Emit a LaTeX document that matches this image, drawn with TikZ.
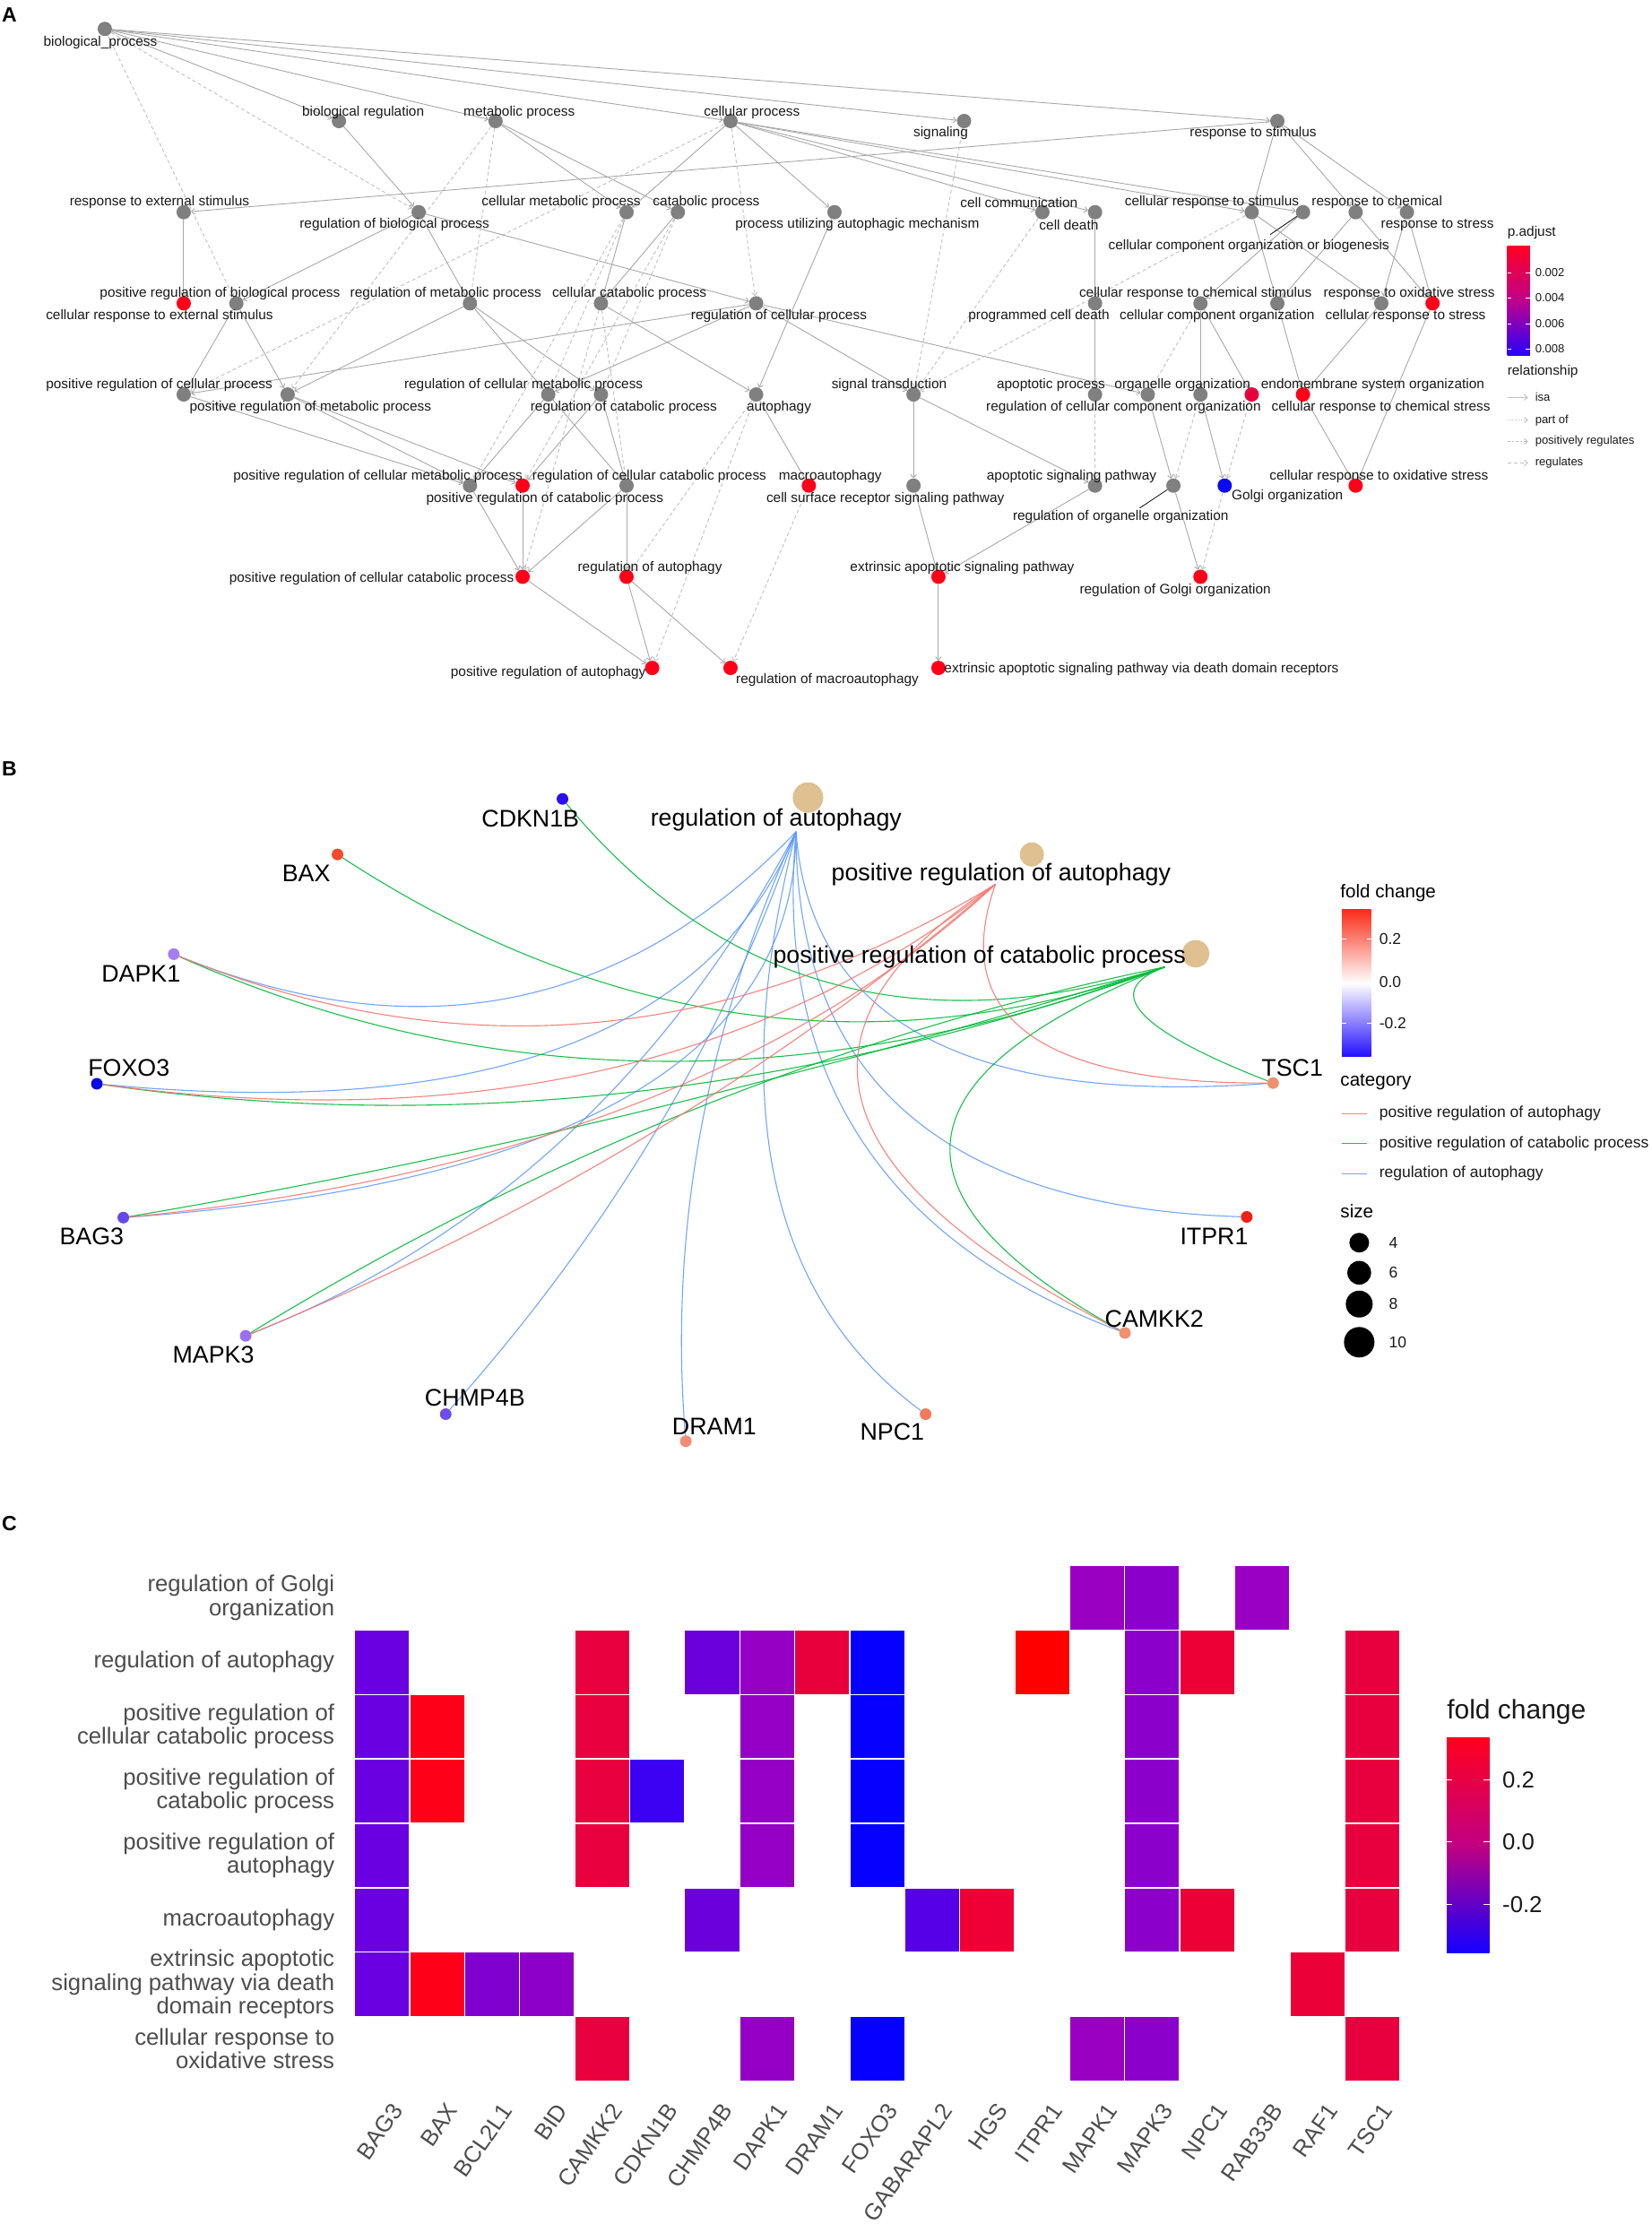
\documentclass[tikz,border=0pt]{standalone}
\usepackage{fontspec}
\setmainfont{Liberation Sans}
\usetikzlibrary{calc,arrows.meta}
\pgfdeclarelayer{bg}
\pgfdeclarelayer{back}
\pgfsetlayers{back,bg,main}
% panel A colours
\definecolor{nodegray}{RGB}{128,128,128}
\definecolor{nodered}{RGB}{255,0,24}
\definecolor{nodecrim}{RGB}{232,0,58}
\definecolor{nodeblue}{RGB}{12,10,240}
\definecolor{edgegray}{RGB}{168,168,168}
\definecolor{edgelight}{RGB}{192,192,192}
\definecolor{labtext}{RGB}{25,25,25}
\definecolor{pR}{RGB}{255,0,36}
\definecolor{pM}{RGB}{190,0,140}
\definecolor{pB}{RGB}{40,0,255}
% panel B colours
\definecolor{catcol}{RGB}{222,192,145}
\definecolor{eRed}{RGB}{248,118,109}
\definecolor{eGreen}{RGB}{0,186,56}
\definecolor{eBlue}{RGB}{97,156,255}
\definecolor{bR}{RGB}{250,45,25}
\definecolor{bB}{RGB}{35,15,255}
\definecolor{gCDK}{RGB}{43,15,240}
\definecolor{gBAX}{RGB}{242,74,42}
\definecolor{gDAP}{RGB}{165,127,240}
\definecolor{gFOX}{RGB}{10,10,230}
\definecolor{gBAG}{RGB}{101,72,232}
\definecolor{gMK3}{RGB}{155,112,240}
\definecolor{gCHM}{RGB}{111,78,232}
\definecolor{gDRA}{RGB}{240,140,120}
\definecolor{gNPC}{RGB}{242,121,92}
\definecolor{gCAM}{RGB}{242,144,112}
\definecolor{gITP}{RGB}{240,30,20}
\definecolor{gTSC}{RGB}{240,144,110}
% panel C colours
\definecolor{axtext}{RGB}{77,77,77}
\definecolor{cBAG}{RGB}{106,0,223}
\definecolor{cBAX}{RGB}{255,0,25}
\definecolor{cBCL}{RGB}{128,0,208}
\definecolor{cBID}{RGB}{140,0,200}
\definecolor{cCAM}{RGB}{232,0,63}
\definecolor{cCDK}{RGB}{60,0,242}
\definecolor{cCHM}{RGB}{108,0,221}
\definecolor{cDAP}{RGB}{148,0,196}
\definecolor{cDRA}{RGB}{232,0,60}
\definecolor{cFOX}{RGB}{5,0,255}
\definecolor{cGAB}{RGB}{85,0,230}
\definecolor{cHGS}{RGB}{238,0,53}
\definecolor{cITP}{RGB}{255,0,0}
\definecolor{cMKa}{RGB}{154,0,194}
\definecolor{cMKb}{RGB}{140,0,203}
\definecolor{cNPC}{RGB}{236,0,53}
\definecolor{cRAB}{RGB}{154,0,196}
\definecolor{cRAF}{RGB}{235,0,56}
\definecolor{cTSC}{RGB}{232,0,62}
\definecolor{hR}{RGB}{255,0,30}
\definecolor{hM}{RGB}{192,0,130}
\definecolor{hB}{RGB}{20,0,255}
\newcommand\myfA{\fontsize{15.4}{17}\selectfont}
\newcommand\myfAl{\fontsize{13}{15}\selectfont}
\newcommand\myfB{\fontsize{26.8}{30}\selectfont}
\newcommand\myfBt{\fontsize{20.6}{24}\selectfont}
\newcommand\myfBl{\fontsize{17.5}{20}\selectfont}
\newcommand\myfC{\fontsize{25.7}{26.5}\selectfont}
\newcommand\myfCt{\fontsize{30}{34}\selectfont}
\newcommand\myfP{\fontsize{23}{26}\selectfont\bfseries}
\newcommand\bedge[4]{\draw[be,#1] (#2) .. controls ($1.3333*(#3)-0.3333*(#4)$) and ($1.3333*(#3)-0.3333*(#2)$) .. (#4);}
\newcommand\hcell[3]{\filldraw[fill=#3,draw=white,line width=1.3pt] ({249+38.63*#2},{1099.3+45.25*#1}) rectangle ++(38.63,45.25);}
\begin{document}
\begin{tikzpicture}[x=1.5888pt,y=-1.5888pt,
  gn/.style={circle,fill=nodegray,inner sep=0pt,minimum size=16pt},
  rn/.style={gn,fill=nodered},
  al/.style={font=\myfA,text=labtext,inner sep=0pt},
  isa/.style={draw=edgegray,line width=0.9pt,-{Straight Barb[length=3.5pt,width=6.5pt]}},
  dsh/.style={draw=edgelight,line width=0.9pt,dash pattern=on 4pt off 3pt,-{Straight Barb[length=3.5pt,width=6.5pt]}},
  gene/.style={circle,inner sep=0pt,minimum size=13pt},
  catn/.style={circle,fill=catcol,inner sep=0pt},
  bl/.style={font=\myfB,text=black,inner sep=0pt},
  be/.style={line width=1.1pt,draw opacity=0.9},
  rl/.style={font=\myfC,text=axtext,anchor=east,align=right,inner sep=0pt},
  cl/.style={font=\myfC,text=axtext,rotate=55,anchor=east,inner sep=0pt}]
\begin{pgfonlayer}{back}
\fill[white] (0,0) rectangle (1160,1568);
\end{pgfonlayer}
\useasboundingbox (0,0) rectangle (1160,1568);

% ================= PANEL A =================
\node[font=\myfP] (pA) at (6.5,10.5) {A};
\node[gn] (bp) at (73.6,20.3) {};
\node[gn] (breg) at (238,85) {};
\node[gn] (mp) at (348,85) {};
\node[gn] (cp) at (513,85) {};
\node[gn] (sig) at (677,85) {};
\node[gn] (rs) at (897,85) {};
\node[gn] (res) at (129,149) {};
\node[gn] (rbp) at (294,149) {};
\node[gn] (cmp) at (440,149) {};
\node[gn] (cat) at (476,149) {};
\node[gn] (pua) at (586,149) {};
\node[gn] (cc) at (732,149) {};
\node[gn] (cd) at (769,149) {};
\node[gn] (crs) at (879,149) {};
\node[gn] (ccob) at (915,149) {};
\node[gn] (rc) at (952,149) {};
\node[gn] (rst) at (988,149) {};
\node[rn] (cres) at (129,213) {};
\node[gn] (prbp) at (166,213) {};
\node[gn] (rmp) at (330,213) {};
\node[gn] (ccp) at (422,213) {};
\node[gn] (rcp) at (531,213) {};
\node[gn] (pcd) at (769,213) {};
\node[gn] (cco) at (843,213) {};
\node[gn] (crcs) at (897,213) {};
\node[gn] (crst) at (970,213) {};
\node[rn] (ros) at (1006,213) {};
\node[gn] (prcp) at (129,277) {};
\node[gn] (prmp) at (202,277) {};
\node[gn] (rcmp) at (385,277) {};
\node[gn] (rcat) at (422,277) {};
\node[gn] (aut) at (531,277) {};
\node[gn] (st) at (641.5,277) {};
\node[gn] (ap) at (769,277) {};
\node[gn] (rcco) at (806,277) {};
\node[gn] (oo) at (843,277) {};
\node[gn,fill=nodecrim] (esorg) at (879,277) {};
\node[rn] (crcst) at (915,277) {};
\node[gn] (prcmp) at (330,341) {};
\node[rn] (prcat) at (367,341) {};
\node[gn] (rccp) at (440,341) {};
\node[rn] (macro) at (568,341) {};
\node[gn] (csrsp) at (641.5,341) {};
\node[gn] (asp) at (769,341) {};
\node[gn] (roo) at (824,341) {};
\node[gn,fill=nodeblue] (golgi) at (860,341) {};
\node[rn] (croxs) at (952,341) {};
\node[rn] (prccp) at (367,405) {};
\node[rn] (raut) at (440,405) {};
\node[rn] (easp) at (659,405) {};
\node[rn] (rgolgi) at (843,405) {};
\node[rn] (praut) at (458,469) {};
\node[rn] (rmacro) at (513,469) {};
\node[rn] (easpdd) at (659,469) {};

\begin{pgfonlayer}{bg}
\foreach \a/\b in {bp/breg,bp/mp,bp/cp,bp/sig,bp/rs,
  breg/rbp,mp/cmp,mp/cat,cp/cmp,cp/pua,cp/cc,cp/cd,cp/crs,cp/ccob,
  rs/res,rs/crs,rs/rc,rs/rst,res/cres,
  rbp/prbp,rbp/rmp,rbp/rcp,cmp/ccp,cat/ccp,cd/pcd,
  crs/crcs,rc/crcs,crs/crst,rst/crst,rst/ros,rc/ros,ccob/cco,
  prbp/prcp,prbp/prmp,rcp/prcp,rcp/rcmp,rcp/st,rcp/rcco,
  rmp/prmp,rmp/rcmp,rmp/rcat,pua/aut,ccp/aut,pcd/ap,cco/oo,cco/esorg,
  crcs/crcst,crst/crcst,
  prmp/prcmp,prcp/prcmp,rcmp/prcmp,rcmp/rccp,rcat/rccp,rcat/prcat,prmp/prcat,
  aut/macro,st/csrsp,st/asp,rcco/roo,oo/golgi,ros/croxs,crcst/croxs,
  prcmp/prccp,prcat/prccp,rccp/prccp,rccp/raut,prccp/praut,raut/praut,raut/rmacro,
  csrsp/easp,asp/easp,easp/easpdd,roo/rgolgi}
  \draw[isa] (\a) -- (\b);
\foreach \a/\b in {bp/rbp,bp/prbp,mp/rmp,mp/prmp,cp/rcp,cp/prcp,cmp/rcmp,cmp/prcmp,
  cat/rcat,cat/prcat,ccp/rccp,ccp/prccp,sig/st,cc/st,crs/st,ap/asp,aut/raut,aut/praut,
  macro/rmacro,cco/rcco,oo/roo,esorg/golgi,golgi/rgolgi}
  \draw[dsh] (\a) -- (\b);
\end{pgfonlayer}

\node[al] (l-bp) at (70.5,29.8) {biological\_process};
\node[al] (l-breg) at (255,78.7) {biological regulation};
\node[al] (l-mp) at (364.6,78.7) {metabolic process};
\node[al] (l-cp) at (528,78.7) {cellular process};
\node[al] (l-sig) at (660.6,93.8) {signaling};
\node[al] (l-rs) at (880,93.8) {response to stimulus};
\node[al] (l-res) at (112,142) {response to external stimulus};
\node[al] (l-rbp) at (277,157.8) {regulation of biological process};
\node[al] (l-cmp) at (394,142) {cellular metabolic process};
\node[al] (l-cat) at (496,142) {catabolic process};
\node[al] (l-pua) at (602,157.8) {process utilizing autophagic mechanism};
\node[al] (l-cc) at (715.6,142) {cell communication};
\node[al] (l-cd) at (750.6,157.8) {cell death};
\node[al] (l-crs) at (851,142) {cellular response to stimulus};
\node[al] (l-rc) at (967,142) {response to chemical};
\node[al] (l-rst) at (1009.4,157.8) {response to stress};
\node[al] (l-ccob) at (877,172.5) {cellular component organization or biogenesis};
\node[al] (l-prbp) at (154.5,206) {positive regulation of biological process};
\node[al] (l-cres) at (112,221.7) {cellular response to external stimulus};
\node[al] (l-rmp) at (313,206) {regulation of metabolic process};
\node[al] (l-ccp) at (442,206) {cellular catabolic process};
\node[al] (l-rcp) at (547,221.7) {regulation of cellular process};
\node[al] (l-pcd) at (729.6,221.7) {programmed cell death};
\node[al] (l-crcs) at (839.5,206) {cellular response to chemical stimulus};
\node[al] (l-cco) at (854.7,221.7) {cellular component organization};
\node[al] (l-ros) at (989.6,206) {response to oxidative stress};
\node[al] (l-crst) at (987,221.7) {cellular response to stress};
\node[al] (l-prcp) at (111.8,270.2) {positive regulation of cellular process};
\node[al] (l-prmp) at (218,285.8) {positive regulation of metabolic process};
\node[al] (l-rcmp) at (367.7,270.2) {regulation of cellular metabolic process};
\node[al] (l-rcat) at (438,286) {regulation of catabolic process};
\node[al] (l-aut) at (547,286) {autophagy};
\node[al] (l-st) at (624.4,270.2) {signal transduction};
\node[al] (l-ap) at (738,270.2) {apoptotic process};
\node[al] (l-oo) at (830.4,270.2) {organelle organization};
\node[al] (l-rcco) at (789,286) {regulation of cellular component organization};
\node[al] (l-esorg) at (964,270.2) {endomembrane system organization};
\node[al] (l-crcst) at (969.8,286) {cellular response to chemical stress};
\node[al] (l-prcmp) at (265.4,334.6) {positive regulation of cellular metabolic process};
\node[al] (l-prcat) at (382.6,350.4) {positive regulation of catabolic process};
\node[al] (l-rccp) at (456,334.6) {regulation of cellular catabolic process};
\node[al] (l-macro) at (583,334.6) {macroautophagy};
\node[al] (l-csrsp) at (621.7,350.4) {cell surface receptor signaling pathway};
\node[al] (l-asp) at (752.5,334.6) {apoptotic signaling pathway};
\node[al] (l-roo) at (787,363) {regulation of organelle organization};
\node[al] (l-golgi) at (904,348.3) {Golgi organization};
\node[al] (l-croxs) at (968.3,334.6) {cellular response to oxidative stress};
\node[al] (l-prccp) at (261,406.4) {positive regulation of cellular catabolic process};
\node[al] (l-raut) at (456.4,398.6) {regulation of autophagy};
\node[al] (l-easp) at (675.7,398.6) {extrinsic apoptotic signaling pathway};
\node[al] (l-rgolgi) at (825.3,414.4) {regulation of Golgi organization};
\node[al] (l-praut) at (385,472.5) {positive regulation of autophagy};
\node[al] (l-rmacro) at (581,477.3) {regulation of macroautophagy};
\node[al] (l-easpdd) at (801.6,470) {extrinsic apoptotic signaling pathway via death domain receptors};
% label pointers
\coordinate (pt1) at (892,164.7);
\coordinate (pt2) at (800.4,356.7);
\draw[black,line width=0.8pt] (pt1) -- (ccob);
\draw[black,line width=0.8pt] (pt2) -- (roo);

% legend A
\node[al,anchor=west] (lpadj) at (1058.5,163.6) {p.adjust};
\shade[top color=pR,bottom color=pB,middle color=pM] (1058.5,173) rectangle (1074.4,249.7);
\foreach \yy/\tt [count=\k] in {191.3/0.002,209.2/0.004,227.2/0.006,245/0.008}{
  \draw[white,line width=0.8pt] (1058.5,\yy) -- ++(3,0) (1074.4,\yy) -- ++(-3,0);
  \node[font=\myfAl,text=labtext,anchor=west,inner sep=0pt] (lp\k) at (1078,\yy) {\tt};
}
\node[al,anchor=west] (lrel) at (1058.5,261.2) {relationship};
\coordinate (ra1) at (1059,279); \coordinate (rb1) at (1073,279);
\coordinate (ra2) at (1059,295); \coordinate (rb2) at (1073,295);
\coordinate (ra3) at (1059,310); \coordinate (rb3) at (1073,310);
\coordinate (ra4) at (1059,325); \coordinate (rb4) at (1073,325);
\draw[isa,draw=edgelight] (ra1) -- (rb1);
\draw[dsh,dash pattern=on 1pt off 1.5pt] (ra2) -- (rb2);
\draw[dsh,dash pattern=on 2.5pt off 2pt] (ra3) -- (rb3);
\draw[dsh] (ra4) -- (rb4);
\node[font=\myfAl,text=labtext,anchor=west,inner sep=0pt] (lr1) at (1078,279) {isa};
\node[font=\myfAl,text=labtext,anchor=west,inner sep=0pt] (lr2) at (1078,295) {part of};
\node[font=\myfAl,text=labtext,anchor=west,inner sep=0pt] (lr3) at (1078,310) {positively regulates};
\node[font=\myfAl,text=labtext,anchor=west,inner sep=0pt] (lr4) at (1078,325) {regulates};

% ================= PANEL B =================
\node[font=\myfP] (pB) at (6.5,539.7) {B};
\node[gene,fill=gCDK] (gCDKN1B) at (395,561) {};
\node[gene,fill=gBAX] (gBAX) at (237,600) {};
\node[gene,fill=gDAP] (gDAPK1) at (122,670) {};
\node[gene,fill=gFOX] (gFOXO3) at (68,761) {};
\node[gene,fill=gBAG] (gBAG3) at (86.6,855) {};
\node[gene,fill=gMK3] (gMAPK3) at (172.5,938) {};
\node[gene,fill=gCHM] (gCHMP4B) at (313,993) {};
\node[gene,fill=gDRA] (gDRAM1) at (481.6,1012) {};
\node[gene,fill=gNPC] (gNPC1) at (650,993) {};
\node[gene,fill=gCAM] (gCAMKK2) at (790,936) {};
\node[gene,fill=gITP] (gITPR1) at (875.5,854.5) {};
\node[gene,fill=gTSC] (gTSC1) at (894,760.5) {};
\node[catn,minimum size=34pt] (kRA) at (567.4,560) {};
\node[catn,minimum size=27pt] (kPA) at (724.6,600) {};
\node[catn,minimum size=30.5pt] (kPC) at (839.6,669.7) {};
\coordinate (cBL) at (559,584);
\coordinate (cRD) at (699,621);
\coordinate (cGR) at (818,679);

\begin{pgfonlayer}{bg}
% regulation of autophagy (blue)
\bedge{eBlue}{gTSC1}{650,728}{cBL}
\bedge{eBlue}{gITPR1}{638,782}{cBL}
\bedge{eBlue}{gCAMKK2}{605,800}{cBL}
\bedge{eBlue}{gNPC1}{545,830}{cBL}
\bedge{eBlue}{gDRAM1}{492,795}{cBL}
\bedge{eBlue}{gCHMP4B}{460,795}{cBL}
\bedge{eBlue}{gMAPK3}{395,800}{cBL}
\bedge{eBlue}{gBAG3}{440,770}{cBL}
\bedge{eBlue}{gFOXO3}{392,736}{cBL}
\bedge{eBlue}{gDAPK1}{360,700}{cBL}
% positive regulation of catabolic process (green)
\bedge{eGreen}{gCDKN1B}{583,690}{cGR}
\bedge{eGreen}{gBAX}{524,712}{cGR}
\bedge{eGreen}{gDAPK1}{460,745}{cGR}
\bedge{eGreen}{gFOXO3}{441,767}{cGR}
\bedge{eGreen}{gBAG3}{452,780}{cGR}
\bedge{eGreen}{gMAPK3}{490,778}{cGR}
\bedge{eGreen}{gCAMKK2}{668,800}{cGR}
\bedge{eGreen}{gTSC1}{803,712}{cGR}
% positive regulation of autophagy (red)
\bedge{eRed}{gTSC1}{723,726}{cRD}
\bedge{eRed}{gCAMKK2}{606,775}{cRD}
\bedge{eRed}{gDAPK1}{415,718}{cRD}
\bedge{eRed}{gFOXO3}{420,752}{cRD}
\bedge{eRed}{gBAG3}{441,777}{cRD}
\bedge{eRed}{gMAPK3}{455,797}{cRD}
\end{pgfonlayer}

\node[bl] (tCDKN1B) at (372.5,575) {CDKN1B};
\node[bl] (tBAX) at (215,613) {BAX};
\node[bl] (tDAPK1) at (99,683.8) {DAPK1};
\node[bl] (tFOXO3) at (90.5,749.9) {FOXO3};
\node[bl] (tBAG3) at (64.4,868.5) {BAG3};
\node[bl] (tMAPK3) at (149.8,951) {MAPK3};
\node[bl] (tCHMP4B) at (333.5,981.8) {CHMP4B};
\node[bl] (tDRAM1) at (501.6,1001.6) {DRAM1};
\node[bl] (tNPC1) at (626.5,1005.4) {NPC1};
\node[bl] (tCAMKK2) at (810.6,926.1) {CAMKK2};
\node[bl] (tITPR1) at (852.6,868.5) {ITPR1};
\node[bl] (tTSC1) at (907.5,749.9) {TSC1};
\node[bl] (tRA) at (545,575.8) {regulation of autophagy};
\node[bl] (tPA) at (703,614.3) {positive regulation of autophagy};
\node[bl] (tPC) at (687.8,671.9) {positive regulation of catabolic process};

% legend B
\node[font=\myfBt,anchor=west,inner sep=0pt] (bfc) at (941.2,626.9) {fold change};
\shade[top color=bR,bottom color=bB,middle color=white] (942.3,638.8) rectangle (962.8,742);
\foreach \yy/\tt [count=\k] in {659.3/0.2,689.8/0.0,718.4/-0.2}{
  \draw[white,line width=0.8pt] (942.3,\yy) -- ++(3,0) (962.8,\yy) -- ++(-3,0);
  \node[font=\myfBl,text=labtext,anchor=west,inner sep=0pt] (bt\k) at (968.5,\yy) {\tt};
}
\node[font=\myfBt,anchor=west,inner sep=0pt] (bcat) at (941.2,760) {category};
\coordinate (bk1a) at (942,782); \coordinate (bk1b) at (960,782);
\coordinate (bk2a) at (942,803); \coordinate (bk2b) at (960,803);
\coordinate (bk3a) at (942,824); \coordinate (bk3b) at (960,824);
\draw[be,eRed] (bk1a) -- (bk1b);
\draw[be,eGreen] (bk2a) -- (bk2b);
\draw[be,eBlue] (bk3a) -- (bk3b);
\node[font=\myfBl,text=labtext,anchor=west,inner sep=0pt] (bc1) at (968.5,782) {positive regulation of autophagy};
\node[font=\myfBl,text=labtext,anchor=west,inner sep=0pt] (bc2) at (968.5,803) {positive regulation of catabolic process};
\node[font=\myfBl,text=labtext,anchor=west,inner sep=0pt] (bc3) at (968.5,824) {regulation of autophagy};
\node[font=\myfBt,anchor=west,inner sep=0pt] (bsz) at (941.2,850.3) {size};
\node[circle,fill=black,inner sep=0pt,minimum size=22pt] (bs1) at (954.5,872.6) {};
\node[circle,fill=black,inner sep=0pt,minimum size=26.5pt] (bs2) at (954.5,893.7) {};
\node[circle,fill=black,inner sep=0pt,minimum size=30pt] (bs3) at (954.5,915.7) {};
\node[circle,fill=black,inner sep=0pt,minimum size=34pt] (bs4) at (954.5,942.5) {};
\node[font=\myfBl,text=labtext,anchor=west,inner sep=0pt] (bn1) at (975.3,872.6) {4};
\node[font=\myfBl,text=labtext,anchor=west,inner sep=0pt] (bn2) at (975.3,893.7) {6};
\node[font=\myfBl,text=labtext,anchor=west,inner sep=0pt] (bn3) at (975.3,915.7) {8};
\node[font=\myfBl,text=labtext,anchor=west,inner sep=0pt] (bn4) at (975.3,942.5) {10};

% ================= PANEL C =================
\node[font=\myfP] (pC) at (6.5,1070) {C};
% row 0 regulation of Golgi organization
\hcell{0}{13}{cMKa}\hcell{0}{14}{cMKb}\hcell{0}{16}{cRAB}
% row 1 regulation of autophagy
\hcell{1}{0}{cBAG}\hcell{1}{4}{cCAM}\hcell{1}{6}{cCHM}\hcell{1}{7}{cDAP}\hcell{1}{8}{cDRA}
\hcell{1}{9}{cFOX}\hcell{1}{12}{cITP}\hcell{1}{14}{cMKb}\hcell{1}{15}{cNPC}\hcell{1}{18}{cTSC}
% row 2
\hcell{2}{0}{cBAG}\hcell{2}{1}{cBAX}\hcell{2}{4}{cCAM}\hcell{2}{7}{cDAP}\hcell{2}{9}{cFOX}
\hcell{2}{14}{cMKb}\hcell{2}{18}{cTSC}
% row 3
\hcell{3}{0}{cBAG}\hcell{3}{1}{cBAX}\hcell{3}{4}{cCAM}\hcell{3}{5}{cCDK}\hcell{3}{7}{cDAP}
\hcell{3}{9}{cFOX}\hcell{3}{14}{cMKb}\hcell{3}{18}{cTSC}
% row 4
\hcell{4}{0}{cBAG}\hcell{4}{4}{cCAM}\hcell{4}{7}{cDAP}\hcell{4}{9}{cFOX}\hcell{4}{14}{cMKb}\hcell{4}{18}{cTSC}
% row 5
\hcell{5}{0}{cBAG}\hcell{5}{6}{cCHM}\hcell{5}{10}{cGAB}\hcell{5}{11}{cHGS}\hcell{5}{14}{cMKb}
\hcell{5}{15}{cNPC}\hcell{5}{18}{cTSC}
% row 6
\hcell{6}{0}{cBAG}\hcell{6}{1}{cBAX}\hcell{6}{2}{cBCL}\hcell{6}{3}{cBID}\hcell{6}{17}{cRAF}
% row 7
\hcell{7}{4}{cCAM}\hcell{7}{7}{cDAP}\hcell{7}{9}{cFOX}\hcell{7}{13}{cMKa}\hcell{7}{14}{cMKb}\hcell{7}{18}{cTSC}

\node[rl] (row0) at (235,1121.9) {regulation of Golgi\\organization};
\node[rl] (row1) at (235,1167.2) {regulation of autophagy};
\node[rl] (row2) at (235,1212.4) {positive regulation of\\cellular catabolic process};
\node[rl] (row3) at (235,1257.7) {positive regulation of\\catabolic process};
\node[rl] (row4) at (235,1302.9) {positive regulation of\\autophagy};
\node[rl] (row5) at (235,1348.1) {macroautophagy};
\node[rl] (row6) at (235,1393.4) {extrinsic apoptotic\\signaling pathway via death\\domain receptors};
\node[rl] (row7) at (235,1438.6) {cellular response to\\oxidative stress};

\foreach \g [count=\i from 0] in {BAG3,BAX,BCL2L1,BID,CAMKK2,CDKN1B,CHMP4B,DAPK1,DRAM1,FOXO3,GABARAPL2,HGS,ITPR1,MAPK1,MAPK3,NPC1,RAB33B,RAF1,TSC1}
  \node[cl] (col\i) at ({249+38.63*\i+30},1479) {\g};

% legend C
\node[font=\myfCt,text=labtext,anchor=west,inner sep=0pt] (cfc) at (1016,1202.4) {fold change};
\shade[top color=hR,bottom color=hB,middle color=hM] (1016,1220.5) rectangle (1046,1371.4);
\foreach \yy/\tt [count=\k] in {1250/0.2,1293.5/0.0,1337.3/-0.2}{
  \draw[white,line width=1pt] (1016,\yy) -- ++(4,0) (1046,\yy) -- ++(-4,0);
  \node[font=\myfC,text=labtext,anchor=west,inner sep=0pt] (ct\k) at (1055,\yy) {\tt};
}
\end{tikzpicture}
\end{document}
